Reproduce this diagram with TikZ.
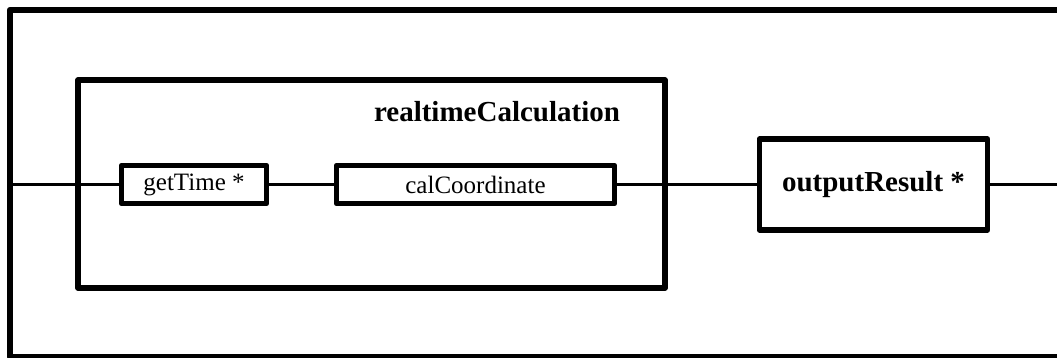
\documentclass[tikz,border=0pt]{standalone}
\usepackage{fontspec}
\setmainfont{Liberation Serif}
\tikzset{
  stepbox/.style={draw,line width=5.5pt,line join=round,inner sep=0pt,fill=white},
  wire/.style={line width=3.5pt}
}
\begin{document}
\begin{tikzpicture}[x=1pt,y=-1pt]
\useasboundingbox (0,0) rectangle (1057,358);
% outer frame, cut by the page on the right
\draw[line width=6.5pt,line join=round] (1080,357) -- (10,357) -- (10,10) -- (1080,10);
\coordinate (entry) at (10,184.5);
\coordinate (exit) at (1070,184.5);
% group box
\node[stepbox,minimum width=587pt,minimum height=208pt] (calc) at (371.5,184) {};
\node at(497,112){\fontsize{29}{32}\selectfont\bfseries realtimeCalculation};
\node[stepbox,minimum width=145pt,minimum height=38pt] (get) at (194,184.5)
  {\fontsize{25}{28}\selectfont getTime *};
\node[stepbox,minimum width=278pt,minimum height=38pt] (cal) at (475.5,184.5)
  {\fontsize{25}{28}\selectfont calCoordinate};
\node[stepbox,minimum width=228pt,minimum height=91pt] (out) at (873.5,184.5)
  {\fontsize{29}{32}\selectfont\bfseries outputResult *};
\draw[wire] (entry) -- (get.west);
\draw[wire] (get.east) -- (cal.west);
\draw[wire] (cal.east) -- (out.west);
\draw[wire] (out.east) -- (exit);
\end{tikzpicture}
\end{document}
